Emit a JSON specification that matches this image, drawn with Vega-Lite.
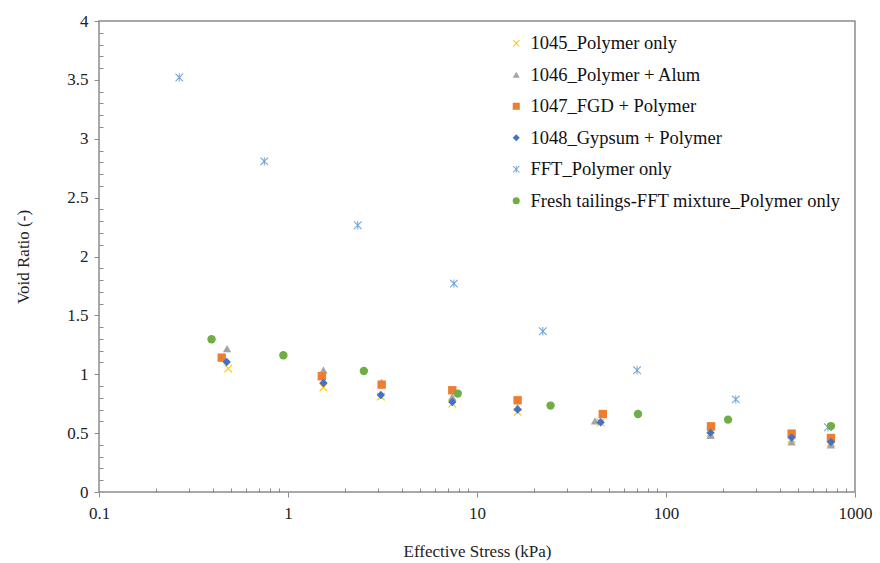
{
  "$schema": "https://vega.github.io/schema/vega-lite/v6.json",
  "width": 756,
  "height": 471,
  "autosize": {"type": "none"},
  "padding": {"left": 99, "top": 21, "right": 25, "bottom": 71},
  "background": "white",
  "config": {
    "view": {"stroke": "#8c8c8c", "strokeWidth": 1.5},
    "font": "Liberation Serif",
    "axis": {"grid": false, "domain": false, "labelFlush": false, "labelOverlap": false, "labelFont": "Liberation Serif", "titleFont": "Liberation Serif", "labelColor": "#222", "titleColor": "#222", "tickColor": "#8c8c8c", "labelFontSize": 17, "titleFontSize": 17, "titleFontWeight": "normal"},
    "legend": {"labelFont": "Liberation Serif"}
  },
  "data": {"values": [
    {"s": "1045_Polymer only", "x": 0.483, "y": 1.048},
    {"s": "1045_Polymer only", "x": 1.54, "y": 0.89},
    {"s": "1045_Polymer only", "x": 3.10, "y": 0.81},
    {"s": "1045_Polymer only", "x": 7.40, "y": 0.75},
    {"s": "1045_Polymer only", "x": 16.4, "y": 0.68},
    {"s": "1045_Polymer only", "x": 45.1, "y": 0.59},
    {"s": "1045_Polymer only", "x": 172, "y": 0.50},
    {"s": "1045_Polymer only", "x": 462, "y": 0.45},
    {"s": "1045_Polymer only", "x": 746, "y": 0.42},
    {"s": "1046_Polymer + Alum", "x": 0.476, "y": 1.218},
    {"s": "1046_Polymer + Alum", "x": 1.54, "y": 1.034},
    {"s": "1046_Polymer + Alum", "x": 3.13, "y": 0.93},
    {"s": "1046_Polymer + Alum", "x": 7.40, "y": 0.807},
    {"s": "1046_Polymer + Alum", "x": 16.4, "y": 0.72},
    {"s": "1046_Polymer + Alum", "x": 42.1, "y": 0.603},
    {"s": "1046_Polymer + Alum", "x": 172, "y": 0.48},
    {"s": "1046_Polymer + Alum", "x": 462, "y": 0.425},
    {"s": "1046_Polymer + Alum", "x": 746, "y": 0.40},
    {"s": "1047_FGD + Polymer", "x": 0.446, "y": 1.141},
    {"s": "1047_FGD + Polymer", "x": 1.51, "y": 0.983},
    {"s": "1047_FGD + Polymer", "x": 3.13, "y": 0.912},
    {"s": "1047_FGD + Polymer", "x": 7.40, "y": 0.864},
    {"s": "1047_FGD + Polymer", "x": 16.4, "y": 0.779},
    {"s": "1047_FGD + Polymer", "x": 46.3, "y": 0.662},
    {"s": "1047_FGD + Polymer", "x": 173, "y": 0.558},
    {"s": "1047_FGD + Polymer", "x": 462, "y": 0.496},
    {"s": "1047_FGD + Polymer", "x": 746, "y": 0.459},
    {"s": "1048_Gypsum + Polymer", "x": 0.474, "y": 1.104},
    {"s": "1048_Gypsum + Polymer", "x": 1.54, "y": 0.926},
    {"s": "1048_Gypsum + Polymer", "x": 3.10, "y": 0.824},
    {"s": "1048_Gypsum + Polymer", "x": 7.40, "y": 0.764},
    {"s": "1048_Gypsum + Polymer", "x": 16.4, "y": 0.70},
    {"s": "1048_Gypsum + Polymer", "x": 45.1, "y": 0.592},
    {"s": "1048_Gypsum + Polymer", "x": 172, "y": 0.504},
    {"s": "1048_Gypsum + Polymer", "x": 462, "y": 0.462},
    {"s": "1048_Gypsum + Polymer", "x": 746, "y": 0.425},
    {"s": "FFT_Polymer only", "x": 0.266, "y": 3.52},
    {"s": "FFT_Polymer only", "x": 0.749, "y": 2.808},
    {"s": "FFT_Polymer only", "x": 2.34, "y": 2.265},
    {"s": "FFT_Polymer only", "x": 7.55, "y": 1.77},
    {"s": "FFT_Polymer only", "x": 22.3, "y": 1.365},
    {"s": "FFT_Polymer only", "x": 70.3, "y": 1.034},
    {"s": "FFT_Polymer only", "x": 234, "y": 0.787},
    {"s": "FFT_Polymer only", "x": 719, "y": 0.55},
    {"s": "Fresh tailings-FFT mixture_Polymer only", "x": 0.394, "y": 1.297},
    {"s": "Fresh tailings-FFT mixture_Polymer only", "x": 0.945, "y": 1.161},
    {"s": "Fresh tailings-FFT mixture_Polymer only", "x": 2.52, "y": 1.028},
    {"s": "Fresh tailings-FFT mixture_Polymer only", "x": 7.91, "y": 0.836},
    {"s": "Fresh tailings-FFT mixture_Polymer only", "x": 24.5, "y": 0.734},
    {"s": "Fresh tailings-FFT mixture_Polymer only", "x": 71.1, "y": 0.662},
    {"s": "Fresh tailings-FFT mixture_Polymer only", "x": 213, "y": 0.615},
    {"s": "Fresh tailings-FFT mixture_Polymer only", "x": 746, "y": 0.56}
  ]},
  "layer": [
    {
      "mark": {"type": "point", "filled": true, "opacity": 1, "size": 70},
      "encoding": {
        "x": {"field": "x", "type": "quantitative", "scale": {"type": "log", "domain": [0.1, 1000], "nice": false},
          "axis": {"orient": "bottom", "values": [0.1, 1, 10, 100, 1000], "format": "~g", "tickSize": 5, "labelPadding": 8, "title": "Effective Stress (kPa)", "titlePadding": 22}},
        "y": {"field": "y", "type": "quantitative", "scale": {"domain": [0, 4], "nice": false, "zero": true},
          "axis": {"orient": "left", "values": [0, 0.5, 1, 1.5, 2, 2.5, 3, 3.5, 4], "format": "~g", "tickSize": 5, "labelPadding": 6, "title": "Void Ratio (-)", "titlePadding": 34}},
        "color": {"field": "s", "type": "nominal",
          "scale": {"domain": ["1045_Polymer only", "1046_Polymer + Alum", "1047_FGD + Polymer", "1048_Gypsum + Polymer", "FFT_Polymer only", "Fresh tailings-FFT mixture_Polymer only"],
            "range": ["#FFC000", "#A5A5A5", "#ED7D31", "#4472C4", "#6FA6DC", "#70AD47"]},
          "legend": {"orient": "none", "legendX": 408, "legendY": 13, "title": null, "labelFont": "Liberation Serif", "labelFontSize": 18.5, "labelColor": "#111", "labelLimit": 500, "rowPadding": 12.5, "symbolSize": 50, "labelOffset": 5, "padding": 0}},
        "shape": {"field": "s", "type": "nominal",
          "scale": {"domain": ["1045_Polymer only", "1046_Polymer + Alum", "1047_FGD + Polymer", "1048_Gypsum + Polymer", "FFT_Polymer only", "Fresh tailings-FFT mixture_Polymer only"],
            "range": ["M-1,-0.82L-0.82,-1L0,-0.18L0.82,-1L1,-0.82L0.18,0L1,0.82L0.82,1L0,0.18L-0.82,1L-1,0.82L-0.18,0Z", "triangle-up", "square", "diamond", "M-1,-0.82L-0.82,-1L0,-0.18L0.82,-1L1,-0.82L0.18,0L1,0.82L0.82,1L0,0.18L-0.82,1L-1,0.82L-0.18,0ZM-0.12,-1L0.12,-1L0.12,1L-0.12,1Z", "circle"]},
          "legend": null}
      }
    },
    {
      "mark": {"type": "point", "opacity": 0},
      "encoding": {
        "x": {"field": "x", "type": "quantitative", "scale": {"type": "log", "domain": [0.1, 1000], "nice": false},
          "axis": {"orient": "bottom", "values": [0.2, 0.3, 0.4, 0.5, 0.6, 0.7, 0.8, 0.9, 2, 3, 4, 5, 6, 7, 8, 9, 20, 30, 40, 50, 60, 70, 80, 90, 200, 300, 400, 500, 600, 700, 800, 900], "tickSize": -4, "labels": false, "title": null}},
        "y": {"field": "y", "type": "quantitative", "scale": {"domain": [0, 4], "nice": false},
          "axis": {"orient": "left", "values": [0.1, 0.2, 0.3, 0.4, 0.6, 0.7, 0.8, 0.9, 1.1, 1.2, 1.3, 1.4, 1.6, 1.7, 1.8, 1.9, 2.1, 2.2, 2.3, 2.4, 2.6, 2.7, 2.8, 2.9, 3.1, 3.2, 3.3, 3.4, 3.6, 3.7, 3.8, 3.9], "tickSize": -4, "labels": false, "title": null}}
      }
    }
  ],
  "resolve": {"axis": {"x": "independent", "y": "independent"}}
}
